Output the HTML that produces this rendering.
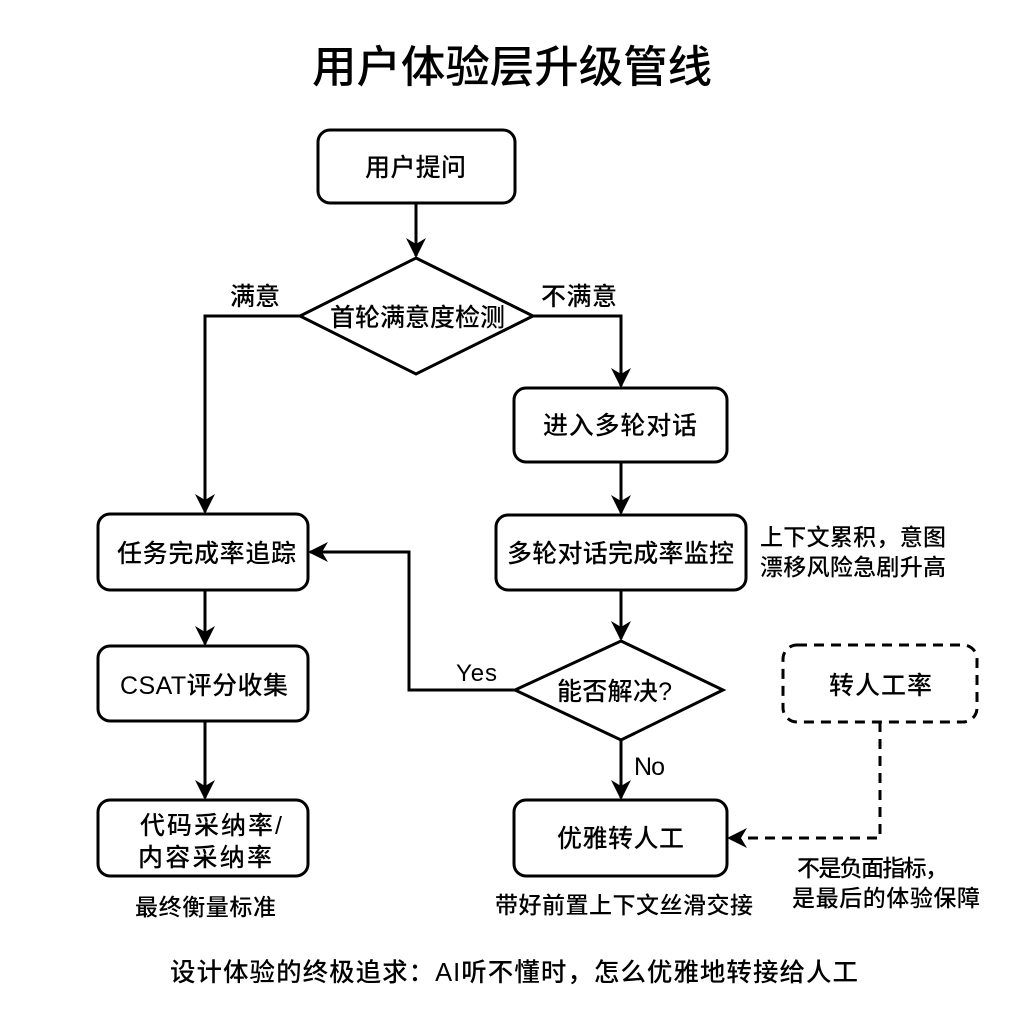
<!DOCTYPE html>
<html><head><meta charset="utf-8"><style>
html,body{margin:0;padding:0;background:#fff;}
svg{display:block;}
text{font-family:"Liberation Sans","Noto Sans CJK SC",sans-serif;fill:#000;font-weight:500;}
</style></head><body>
<svg width="1024" height="1024" viewBox="0 0 1024 1024" xmlns="http://www.w3.org/2000/svg">
<defs>
<marker id="b" viewBox="0 0 10 10" markerWidth="20" markerHeight="20" refX="9" refY="5" orient="auto" markerUnits="userSpaceOnUse">
<path d="M0,0 L10,5 L0,10 L3,5 Z" fill="#000"/>
</marker>
</defs>
<text x="312" y="82" font-size="44" font-weight="bold" textLength="400" lengthAdjust="spacingAndGlyphs">用户体验层升级管线</text>
<g fill="#fff" stroke="#000" stroke-width="3">
<rect x="318" y="130" width="197" height="73" rx="12"/>
<polygon points="416,258 533,316 416,374 300,316"/>
<rect x="514" y="388" width="213" height="74" rx="12"/>
<rect x="496" y="515" width="250" height="75" rx="12"/>
<polygon points="621,641 723,690 621,740 515,690"/>
<rect x="514" y="800" width="213" height="76" rx="12"/>
<rect x="98" y="514" width="210" height="76" rx="12"/>
<rect x="98" y="646" width="210" height="75" rx="12"/>
<rect x="98" y="800" width="210" height="76" rx="12"/>
<rect x="783" y="645" width="194" height="77" rx="14" stroke-dasharray="10,7"/>
</g>
<g fill="none" stroke="#000" stroke-width="3" marker-end="url(#b)">
<path d="M416,203 V256"/>
<path d="M300,316 H205 V512"/>
<path d="M533,316 H621 V386"/>
<path d="M621,462 V513"/>
<path d="M621,590 V639"/>
<path d="M515,690 H409 V552 H310"/>
<path d="M621,740 V798"/>
<path d="M205,590 V644"/>
<path d="M205,721 V798"/>
<path d="M880,722 V838 H729" stroke-dasharray="10,7"/>
</g>
<g font-size="25" lengthAdjust="spacingAndGlyphs">
<text x="365" y="176" textLength="101">用户提问</text>
<text x="330" y="326" textLength="175">首轮满意度检测</text>
<text x="543" y="434" textLength="154">进入多轮对话</text>
<text x="507" y="562" textLength="227">多轮对话完成率监控</text>
<text x="557" y="700" font-size="25" textLength="115">能否解决?</text>
<text x="557" y="847" textLength="127">优雅转人工</text>
<text x="117" y="562" textLength="179">任务完成率追踪</text>
<text x="120" y="694" textLength="168">CSAT评分收集</text>
<text x="140" y="834" textLength="142">代码采纳率/</text>
<text x="138" y="866" textLength="134">内容采纳率</text>
<text x="829" y="694" textLength="103">转人工率</text>
</g>
<g font-size="23" lengthAdjust="spacingAndGlyphs">
<text x="230" y="305" font-size="25" textLength="50">满意</text>
<text x="541" y="305" font-size="25" textLength="76">不满意</text>
<text x="456" y="681" font-size="24" textLength="41">Yes</text>
<text x="634" y="775" font-size="25" textLength="31">No</text>
<text x="760" y="545" textLength="186">上下文累积，意图</text>
<text x="760" y="575" textLength="186">漂移风险急剧升高</text>
<text x="135" y="915" textLength="141">最终衡量标准</text>
<text x="495" y="913" textLength="258">带好前置上下文丝滑交接</text>
<text x="797" y="876" textLength="151">不是负面指标，</text>
<text x="792" y="906" textLength="188">是最后的体验保障</text>
<text x="170" y="981" font-size="25.5" textLength="688">设计体验的终极追求：AI听不懂时，怎么优雅地转接给人工</text>
</g>
</svg>
</body></html>
